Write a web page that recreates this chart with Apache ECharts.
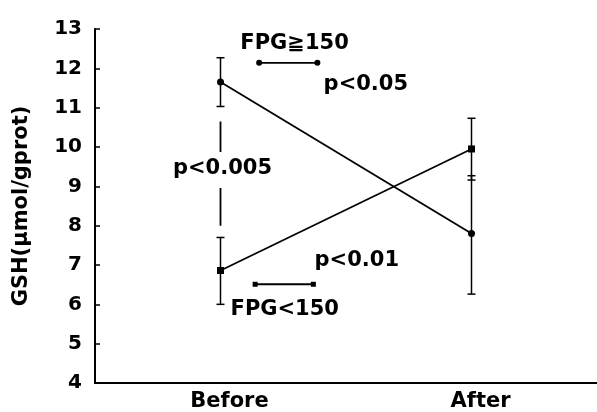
<!DOCTYPE html>
<html><head><meta charset="utf-8">
<script src="https://cdn.jsdelivr.net/npm/echarts@6/dist/echarts.min.js"></script>
<style>html,body{margin:0;padding:0;background:#fff}#c{width:597px;height:412px}</style>
</head><body><div id="c"></div>
<script>
var categories = ['Before', 'After'];
var yTicks = [4, 5, 6, 7, 8, 9, 10, 11, 12, 13];
// FPG>=150 group (circles)
var highMean = [11.65, 7.8];
var highLow = [11.03, 6.26];
var highHigh = [12.27, 9.27];
// FPG<150 group (squares)
var lowMean = [6.86, 9.95];
var lowLow = [6.0, 9.16];
var lowHigh = [7.7, 10.73];
// significance markers (x on a 0..2 value scale, Before=0.5, After=1.5)
var bracketHigh = [[0.654, 12.14], [0.886, 12.14]];
var bracketLow = [[0.638, 6.51], [0.870, 6.51]];
var sigLine = [[0.5, 10.65], [0.5, 9.87], [0.5, '-'], [0.5, 8.96], [0.5, 8.0]];
var notes = [
  {text: 'FPG≧150', x: 0.795, y: 12.63},
  {text: 'p<0.05', x: 1.079, y: 11.6},
  {text: 'p<0.005', x: 0.508, y: 9.44},
  {text: 'p<0.01', x: 1.043, y: 7.12},
  {text: 'FPG<150', x: 0.756, y: 5.88}
];

var FONT = 'DejaVu Sans';
function errData(lo, hi) { return lo.map(function (v, i) { return [i, v, hi[i]]; }); }
function errRender(params, api) {
  var x = api.value(0);
  var p1 = api.coord([x, api.value(1)]);
  var p2 = api.coord([x, api.value(2)]);
  var w = 4;
  var st = {stroke: '#000', lineWidth: 1.5};
  return {type: 'group', children: [
    {type: 'line', shape: {x1: p1[0], y1: p1[1], x2: p2[0], y2: p2[1]}, style: st},
    {type: 'line', shape: {x1: p1[0] - w, y1: p1[1], x2: p1[0] + w, y2: p1[1]}, style: st},
    {type: 'line', shape: {x1: p2[0] - w, y1: p2[1], x2: p2[0] + w, y2: p2[1]}, style: st}
  ]};
}

var chart = echarts.init(document.getElementById('c'));
chart.setOption({
  animation: false,
  backgroundColor: '#fff',
  grid: {left: 95, top: 29, bottom: 27, width: 508},
  xAxis: [{
    type: 'category', data: categories, boundaryGap: true,
    axisLine: {lineStyle: {color: '#000', width: 2}},
    axisTick: {show: false},
    axisLabel: {color: '#000', fontFamily: FONT, fontWeight: 'bold', fontSize: 21, margin: 8, padding: [0, 0, 0, 18]}
  }, {
    type: 'value', min: 0, max: 2, show: false
  }],
  yAxis: {
    type: 'value', min: yTicks[0], max: yTicks[yTicks.length - 1], interval: 1,
    name: 'GSH(μmol/gprot)', nameLocation: 'middle', nameGap: 63,
    nameTextStyle: {color: '#000', fontFamily: FONT, fontWeight: 'bold', fontSize: 21},
    axisLine: {show: true, lineStyle: {color: '#000', width: 2}},
    axisTick: {show: true, inside: true, length: 5, lineStyle: {color: '#000', width: 1.5}},
    axisLabel: {color: '#000', fontFamily: FONT, fontWeight: 'bold', fontSize: 20, margin: 13},
    splitLine: {show: false}
  },
  series: [
    {type: 'line', data: highMean, symbol: 'circle', symbolSize: 7,
     lineStyle: {color: '#000', width: 1.8}, itemStyle: {color: '#000'}, z: 3},
    {type: 'line', data: lowMean, symbol: 'rect', symbolSize: 7,
     lineStyle: {color: '#000', width: 1.8}, itemStyle: {color: '#000'}, z: 3},
    {type: 'custom', data: errData(highLow, highHigh), renderItem: errRender, z: 2},
    {type: 'custom', data: errData(lowLow, lowHigh), renderItem: errRender, z: 2},
    {type: 'line', xAxisIndex: 1, data: bracketHigh, symbol: 'circle', symbolSize: 6,
     lineStyle: {color: '#000', width: 1.8}, itemStyle: {color: '#000'}},
    {type: 'line', xAxisIndex: 1, data: bracketLow, symbol: 'rect', symbolSize: 5,
     lineStyle: {color: '#000', width: 1.8}, itemStyle: {color: '#000'}},
    {type: 'line', xAxisIndex: 1, data: sigLine, symbol: 'none', connectNulls: false,
     lineStyle: {color: '#000', width: 1.8}},
    {type: 'scatter', xAxisIndex: 1, symbolSize: 0, itemStyle: {color: '#000', opacity: 1},
     data: notes.map(function (n) { return {value: [n.x, n.y], name: n.text}; }),
     label: {show: true, position: 'inside', formatter: '{b}', color: '#000', opacity: 1,
       textBorderWidth: 0, textBorderColor: 'transparent',
       fontFamily: FONT, fontWeight: 'bold', fontSize: 21}}
  ]
});
</script>
</body></html>
